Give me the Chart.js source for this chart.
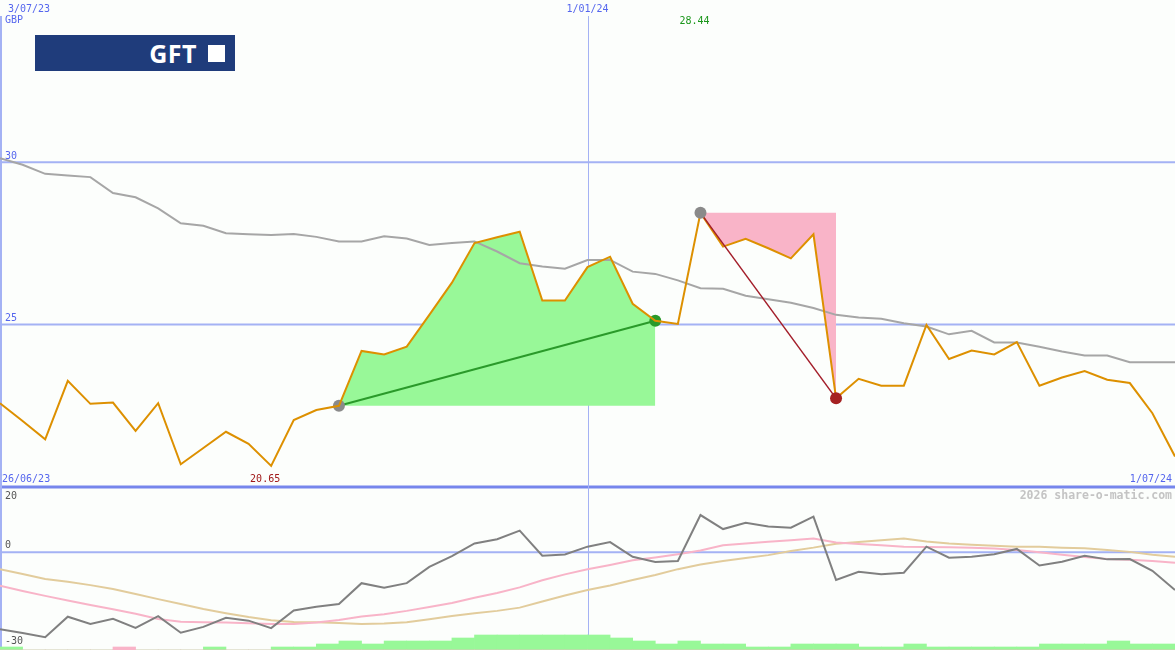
<!DOCTYPE html>
<html>
<head>
<meta charset="utf-8">
<title>GFT - share-o-matic</title>
<script src="https://cdn.jsdelivr.net/npm/chart.js@4.4.1/dist/chart.umd.min.js"></script>
<style>
  body { margin: 0; background: #fcfefc; }
  #wrap { position: relative; width: 1175px; height: 650px; overflow: hidden; }
  #priceChart { position: absolute; left: 0; top: 0; }
  #oscChart { position: absolute; left: 0; top: 487px; }
  .logo {
    position: absolute; left: 35px; top: 35px; width: 200px; height: 36px;
    background: #1f3c7b; color: #fff; box-sizing: border-box; padding-right: 10px;
    display: flex; align-items: center; justify-content: flex-end;
    font: bold 25px "Open Sans", sans-serif; letter-spacing: 0.5px;
  }
  .logo span { display: inline-block; width: 17px; height: 17px; background: #fff; margin-left: 11px; }
</style>
</head>
<body>
<div id="wrap">
  <canvas id="priceChart" width="1175" height="487"></canvas>
  <canvas id="oscChart" width="1175" height="163"></canvas>
  <div class="logo">GFT<span></span></div>
</div>
<script>
// weekly closes, 3/07/23 .. 1/07/24
const weeks = ['3/07/23', '10/07/23', '17/07/23', '24/07/23', '31/07/23', '7/08/23', '14/08/23', '21/08/23',
    '28/08/23', '4/09/23', '11/09/23', '18/09/23', '25/09/23', '2/10/23', '9/10/23', '16/10/23', '23/10/23',
    '30/10/23', '6/11/23', '13/11/23', '20/11/23', '27/11/23', '4/12/23', '11/12/23', '18/12/23', '25/12/23',
    '1/01/24', '8/01/24', '15/01/24', '22/01/24', '29/01/24', '5/02/24', '12/02/24', '19/02/24', '26/02/24',
    '4/03/24', '11/03/24', '18/03/24', '25/03/24', '1/04/24', '8/04/24', '15/04/24', '22/04/24', '29/04/24',
    '6/05/24', '13/05/24', '20/05/24', '27/05/24', '3/06/24', '10/06/24', '17/06/24', '24/06/24', '1/07/24'];

const price = [22.58, 22.03, 21.47, 23.27, 22.56, 22.60, 21.73, 22.58, 20.70, 21.20,
    21.70, 21.33, 20.65, 22.06, 22.37, 22.50, 24.19, 24.08, 24.32, 25.30,
    26.29, 27.51, 27.69, 27.86, 25.74, 25.74, 26.77, 27.09, 25.64, 25.12,
    25.02, 28.44, 27.40, 27.64, 27.35, 27.04, 27.78, 22.73, 23.33, 23.12,
    23.12, 24.99, 23.94, 24.20, 24.08, 24.46, 23.12, 23.37, 23.57, 23.30,
    23.20, 22.27, 20.94];

const avg = [30.12, 29.92, 29.64, 29.59, 29.54, 29.05, 28.92, 28.58, 28.12, 28.04,
    27.81, 27.78, 27.76, 27.79, 27.70, 27.56, 27.56, 27.72, 27.65, 27.45,
    27.51, 27.56, 27.25, 26.89, 26.79, 26.72, 26.99, 26.99, 26.63, 26.56,
    26.36, 26.12, 26.10, 25.89, 25.78, 25.67, 25.51, 25.30, 25.22, 25.18,
    25.04, 24.94, 24.70, 24.81, 24.45, 24.45, 24.32, 24.17, 24.05, 24.05,
    23.84, 23.84, 23.84];

const momentum = [-23.65, -24.8, -26.1, -19.8, -22.0, -20.4, -23.2, -19.6, -24.7, -22.9,
    -20.1, -21.0, -23.3, -17.9, -16.7, -15.9, -9.5, -10.9, -9.5, -4.5,
    -1.2, 2.7, 4.0, 6.6, -1.1, -0.7, 1.7, 3.1, -1.4, -3.0,
    -2.7, 11.4, 7.1, 9.0, 7.9, 7.5, 10.9, -8.5, -6.0, -6.8,
    -6.3, 1.7, -1.7, -1.4, -0.6, 1.0, -4.1, -2.9, -1.1, -2.2,
    -2.1, -5.7, -11.6];

const fastLine = [-10.3, -11.9, -13.4, -14.8, -16.2, -17.5, -18.9, -20.5, -21.3, -21.5,
    -21.6, -21.8, -22.0, -22.0, -21.6, -20.8, -19.7, -19.0, -18.0, -16.8,
    -15.6, -14.0, -12.5, -10.8, -8.6, -6.8, -5.2, -3.9, -2.5, -1.6,
    -0.6, 0.5, 2.1, 2.7, 3.2, 3.7, 4.2, 3.0, 2.5, 2.1,
    1.7, 1.6, 1.5, 1.4, 1.1, 0.7, 0.0, -0.8, -1.5, -2.1,
    -2.3, -2.7, -3.2];

const slowLine = [-5.2, -6.7, -8.2, -9.1, -10.1, -11.3, -12.8, -14.4, -15.9, -17.4,
    -18.7, -19.9, -20.9, -21.4, -21.5, -21.7, -22.0, -21.9, -21.5, -20.6,
    -19.6, -18.7, -18.0, -17.0, -15.1, -13.3, -11.6, -10.2, -8.5, -7.0,
    -5.2, -3.8, -2.7, -1.8, -0.9, 0.4, 1.4, 2.6, 3.1, 3.7,
    4.2, 3.3, 2.7, 2.3, 2.0, 1.7, 1.7, 1.4, 1.2, 0.7,
    0.1, -0.8, -1.4];

// little histogram along the bottom, one per week
const upBars = [1, 0, 0, 0, 0, 0, 0, 0, 0, 1, 0, 0, 1, 1, 2, 3, 2, 3, 3, 3,
    4, 5, 5, 5, 5, 5, 5, 4, 3, 2, 3, 2, 2, 1, 1, 2, 2, 2, 1, 1,
    2, 1, 1, 1, 1, 1, 2, 2, 2, 3, 2, 2];
const downBars = [0, 0, 0, 0, 0, 1, 0, 0, 0, 0, 0, 0, 0, 0, 0, 0, 0, 0, 0, 0,
    0, 0, 0, 0, 0, 0, 0, 0, 0, 0, 0, 0, 0, 0, 0, 0, 0, 0, 0, 0,
    0, 0, 0, 0, 0, 0, 0, 0, 0, 0, 0, 0];

const buyTrade = [15, 29];
const sellTrade = [31, 37];
const priceTicks = [30, 25];
const oscTicks = [20, 0, -30];
const periodStart = '26/06/23';
const lowIdx = 12;
const highIdx = 31;

const blue = '#5566ee';
const gridBlue = '#a4b2f4';
const edgeBlue = '#7686ec';
const mono = '10px "DejaVu Sans Mono", monospace';

const pts = (arr, from = 0) => arr.map((v, i) => ({ x: from + i, y: v }));
const seg = (a, b) => pts(price.slice(a, b + 1), a);

// grid lines + text, placed through the chart's own scales
const guides = {
    id: 'guides',
    beforeDatasetsDraw(chart, args, opts) {
        const { ctx, chartArea: a, scales } = chart;
        const x = scales.x, y = scales.y;
        ctx.save();
        opts.rows.forEach(r => {
            const py = y.getPixelForValue(r.value);
            ctx.strokeStyle = r.color;
            ctx.lineWidth = r.width;
            ctx.beginPath();
            ctx.moveTo(a.left, py);
            ctx.lineTo(a.right, py);
            ctx.stroke();
        });
        opts.cols.forEach(c => {
            const px = Math.round(x.getPixelForValue(c.index)) + 0.5;
            ctx.strokeStyle = gridBlue;
            ctx.lineWidth = c.width;
            ctx.beginPath();
            ctx.moveTo(px, a.top);
            ctx.lineTo(px, a.bottom);
            ctx.stroke();
        });
        ctx.restore();
    },
    afterDraw(chart, args, opts) {
        const { ctx, scales } = chart;
        ctx.save();
        ctx.textBaseline = 'middle';
        opts.texts.forEach(t => {
            let px = t.index != null ? scales.x.getPixelForValue(t.index) : 0;
            px += t.dx || 0;
            const py = t.value != null ? scales.y.getPixelForValue(t.value) + t.dy : t.py;
            ctx.font = t.font || mono;
            ctx.fillStyle = t.color;
            ctx.textAlign = t.align || 'left';
            ctx.fillText(t.text, px, py);
        });
        ctx.restore();
    }
};

const baseOpts = {
    responsive: false,
    animation: false,
    events: [],
    elements: { point: { radius: 0 }, line: { tension: 0 } },
    plugins: { legend: { display: false }, tooltip: { enabled: false } }
};

new Chart(document.getElementById('priceChart'), {
    type: 'line',
    data: {
        datasets: [
            {
                data: seg(buyTrade[0], buyTrade[1]),
                borderWidth: 0,
                backgroundColor: '#98f898',
                fill: { value: price[buyTrade[0]] },
                order: 6
            },
            {
                data: seg(sellTrade[0], sellTrade[1]),
                borderWidth: 0,
                backgroundColor: '#f9b4c8',
                fill: { value: price[sellTrade[0]] },
                order: 5
            },
            {
                data: pts(avg),
                borderColor: '#a6a6a6',
                borderWidth: 2,
                order: 4
            },
            {
                data: [{ x: buyTrade[0], y: price[buyTrade[0]] }, { x: buyTrade[1], y: price[buyTrade[1]] }],
                borderColor: '#2a9a2a',
                borderWidth: 2,
                pointRadius: 6,
                pointBorderWidth: 0,
                pointBackgroundColor: ['#8a8a8a', '#2a9a2a'],
                order: 3
            },
            {
                data: pts(price),
                borderColor: '#dd9000',
                borderWidth: 2,
                order: 2
            },
            {
                data: [{ x: sellTrade[0], y: price[sellTrade[0]] }, { x: sellTrade[1], y: price[sellTrade[1]] }],
                borderColor: '#a31e2a',
                borderWidth: 1.5,
                pointRadius: 6,
                pointBorderWidth: 0,
                pointBackgroundColor: ['#8a8a8a', '#a52222'],
                order: 1
            }
        ]
    },
    options: {
        ...baseOpts,
        layout: { autoPadding: false, padding: { top: 16, left: 0, right: 0, bottom: 0 } },
        scales: {
            x: { type: 'linear', min: 0, max: weeks.length - 1, offset: false, display: false },
            y: { min: 20, max: 34.5, display: false }
        },
        plugins: {
            ...baseOpts.plugins,
            guides: {
                rows: [
                    ...priceTicks.map(v => ({ value: v, color: gridBlue, width: 2 })),
                    { value: 20, color: edgeBlue, width: 3 }
                ],
                cols: [{ index: 0, width: 3 }, { index: 26, width: 1 }],
                texts: [
                    { text: weeks[0], index: 0, dx: 8, py: 9, color: blue },
                    { text: 'GBP', index: 0, dx: 5, py: 20, color: blue },
                    { text: weeks[26], index: 26, py: 9, align: 'center', color: blue },
                    { text: price[highIdx].toFixed(2), index: highIdx, dx: -6, py: 21, align: 'center', color: '#1a961a' },
                    ...priceTicks.map(v => ({ text: String(v), index: 0, dx: 5, value: v, dy: -6, color: blue })),
                    { text: periodStart, index: 0, dx: 2, py: 479, color: blue },
                    { text: price[lowIdx].toFixed(2), index: lowIdx, dx: -6, py: 479, align: 'center', color: '#a01818' },
                    { text: weeks[weeks.length - 1], index: weeks.length - 1, dx: -3, py: 479, align: 'right', color: blue }
                ]
            }
        }
    },
    plugins: [guides]
});

new Chart(document.getElementById('oscChart'), {
    type: 'line',
    data: {
        datasets: [
            {
                type: 'bar',
                data: upBars.map((v, i) => ({ x: i + 0.5, y: v })),
                yAxisID: 'yVol',
                backgroundColor: '#98f898',
                barPercentage: 1,
                categoryPercentage: 1,
                grouped: false,
                order: 5
            },
            {
                type: 'bar',
                data: downBars.map((v, i) => ({ x: i + 0.5, y: v })),
                yAxisID: 'yVol',
                backgroundColor: '#f9b4c8',
                barPercentage: 1,
                categoryPercentage: 1,
                grouped: false,
                order: 4
            },
            { data: pts(slowLine), borderColor: '#e2cc9c', borderWidth: 2, order: 3 },
            { data: pts(fastLine), borderColor: '#f8b4c8', borderWidth: 2, order: 2 },
            { data: pts(momentum), borderColor: '#808080', borderWidth: 2, order: 1 }
        ]
    },
    options: {
        ...baseOpts,
        layout: { autoPadding: false, padding: 0 },
        scales: {
            x: { type: 'linear', min: 0, max: weeks.length - 1, offset: false, display: false },
            y: { min: -30, max: 20, display: false },
            yVol: { min: 0, max: 163 / 3, display: false }
        },
        plugins: {
            ...baseOpts.plugins,
            guides: {
                rows: [
                    { value: 0, color: gridBlue, width: 2 },
                    { value: 20, color: edgeBlue, width: 3 }
                ],
                cols: [{ index: 0, width: 3 }, { index: 26, width: 1 }],
                texts: [
                    { text: '2026 share-o-matic.com', index: weeks.length - 1, dx: -3, py: 9, align: 'right',
                      color: '#c4c4c4', font: 'bold 11.5px "DejaVu Sans Mono", monospace' },
                    { text: String(oscTicks[0]), index: 0, dx: 5, py: 9, color: '#555' },
                    { text: String(oscTicks[1]), index: 0, dx: 5, value: 0, dy: -7, color: '#555' },
                    { text: String(oscTicks[2]), index: 0, dx: 5, py: 154, color: '#555' }
                ]
            }
        }
    },
    plugins: [guides]
});
</script>
</body>
</html>
